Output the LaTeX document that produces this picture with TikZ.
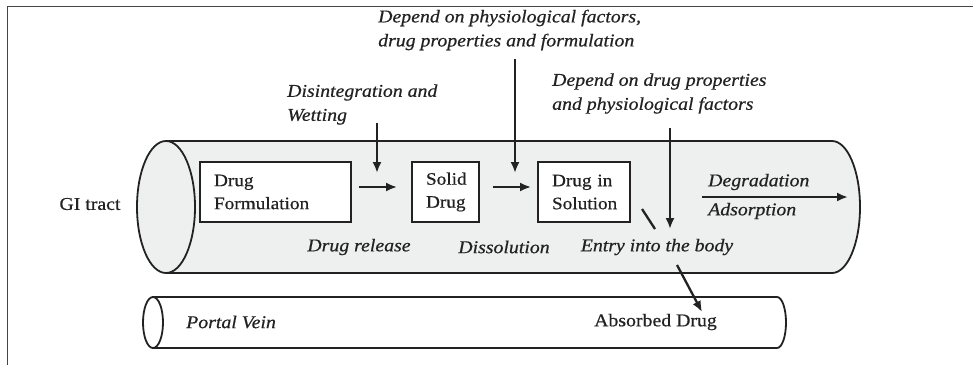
\documentclass[tikz,border=0pt]{standalone}
\usepackage{fontspec}
\setmainfont{Liberation Serif}[FakeStretch=1.1, FakeBold=0.6]
\usetikzlibrary{arrows.meta}
\definecolor{ink}{HTML}{222222}
\definecolor{tubefill}{HTML}{EEF0F0}
\definecolor{framec}{HTML}{444444}
\tikzset{
  txt/.style={font=\fontsize{18}{24}\selectfont, text=ink, inner sep=0pt, align=left},
  itxt/.style={txt, font=\fontsize{18}{24}\selectfont\itshape},
  boxnode/.style={draw=ink, line width=1.8pt, fill=white, minimum height=60pt, inner xsep=14pt, inner ysep=0pt, align=left, font=\fontsize{17.5}{23}\selectfont, text=ink},
  arr/.style={draw=ink, line width=2.3pt, -{Latex[length=11pt,width=9pt]}},
  tubeline/.style={draw=ink, line width=1.8pt},
}
\begin{document}
\begin{tikzpicture}[x=1pt,y=-1pt]
\useasboundingbox (0,0) rectangle (973,365);
% frame
\draw[framec, line width=1.5pt] (7.5,365) -- (7.5,6.5) -- (973,6.5);

% GI tract tube
\path[tubeline, fill=tubefill] (166,141) -- (832,141)
   arc[start angle=90, end angle=-90, x radius=28pt, y radius=66pt] -- (166,273) -- cycle;
\path[tubeline, fill=tubefill] (166,207) ellipse [x radius=29pt, y radius=66pt];

% Portal vein tube
\path[tubeline, fill=white] (153,297) -- (777,297)
   arc[start angle=90, end angle=-90, x radius=9pt, y radius=25.5pt] -- (153,348) -- cycle;
\path[tubeline, fill=white] (153,322.5) ellipse [x radius=10pt, y radius=25.5pt];

% labels
\node[txt] (gi) at (90,204) {GI tract};
\node[boxnode, text width=123pt] (form) at (275.5,192) {Drug\\Formulation};
\node[boxnode, text width=39pt] (solid) at (445.5,192) {Solid\\Drug};
\node[boxnode, text width=64pt] (sol) at (584,192) {Drug in\\Solution};

\node[itxt, anchor=west] (dep1) at (378,30) {Depend on physiological factors,\\drug properties and formulation};
\node[itxt, anchor=west] (dep2) at (552,93.5) {Depend on drug properties\\and physiological factors};
\node[itxt, anchor=west] (dis) at (287,104.5) {Disintegration and\\Wetting};

\node[itxt] (rel) at (359,247) {Drug release};
\node[itxt] (diss) at (504,247) {Dissolution};
\node[itxt] (entry) at (657,247) {Entry into the body};
\node[itxt, anchor=west] (degr) at (708,182) {Degradation};
\node[itxt, anchor=west] (ads) at (708,211) {Adsorption};
\node[itxt, anchor=west] (pv) at (186,322) {Portal Vein};
\node[txt, anchor=west] (abs) at (594,322) {Absorbed Drug};

% connectors
\draw[arr] ([xshift=7pt,yshift=5pt]form.east) -- ([xshift=-14pt,yshift=5pt]solid.west);
\draw[arr] ([xshift=13pt,yshift=5pt]solid.east) -- ([xshift=-6pt,yshift=5pt]sol.west);

\coordinate (t1top) at (377,123);
\coordinate (t1) at (377,173);
\draw[arr] (t1top) -- (t1);
\coordinate (t2top) at (515,59);
\coordinate (t2) at (515,173);
\draw[arr] (t2top) -- (t2);
\coordinate (t3top) at (670,128);
\coordinate (t3) at (670,229);
\draw[arr] (t3top) -- (t3);

\coordinate (dstart) at (702,197);
\coordinate (dend) at (848,197);
\draw[arr] (dstart) -- (dend);

\coordinate (s1) at (642,209);
\coordinate (s2) at (655,229);
\draw[draw=ink, line width=2.3pt] (s1) -- (s2);

\coordinate (e1) at (677,265);
\coordinate (e2) at (702,312);
\draw[arr] (e1) -- (e2);
\end{tikzpicture}
\end{document}
